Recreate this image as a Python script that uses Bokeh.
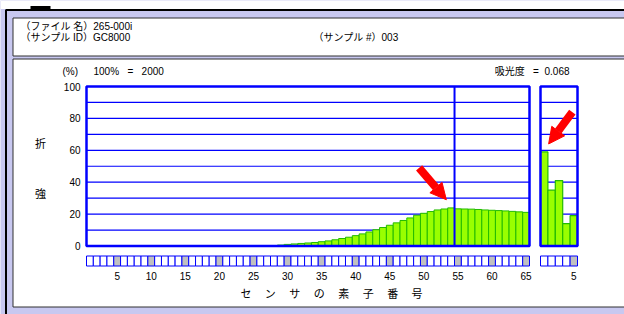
from bokeh.plotting import figure
from bokeh.models import Range1d, Arrow, NormalHead
from bokeh.core.properties import value
from bokeh.embed import file_html
from bokeh.resources import INLINE

# ---------------- data ----------------
sensors = list(range(28, 66))
intensity = [0.3, 0.6, 1.0, 1.3, 1.6, 1.9, 2.2, 2.7, 3.2, 3.9,
             4.7, 5.5, 6.5, 7.6, 8.8, 10.2, 11.6, 13.0, 14.5, 16.0,
             17.6, 19.3, 20.5, 21.6, 22.6, 23.2, 23.9, 23.3, 23.2, 23.1,
             22.9, 22.6, 22.4, 22.2, 22.0, 21.7, 21.4, 21.1]
sensors2 = [1, 2, 3, 4, 5]
intensity2 = [59, 35, 41, 14, 19]
x_ticks = [5, 10, 15, 20, 25, 30, 35, 40, 45, 50, 55, 60, 65]
x2_ticks = [5]
y_ticks = [0, 20, 40, 60, 80, 100]
grid_vals = [10, 20, 30, 40, 50, 60, 70, 80, 90]
n_main = 65
n_second = 5
split_at = 54.5
NB = "\u00a0"
file_name = "（ファイル 名）265-000i"
sample_id = "（サンプル ID）GC8000"
sample_no = "（サンプル #）003"
scale_txt = "100%" + NB * 3 + "=" + NB * 3 + "2000"
absorb_txt = "吸光度" + NB * 3 + "=" + NB * 2 + "0.068"
x_title = "セ　 ン　 サ　 の　 素　 子　 番　 号"

# ---------------- layout (page pixels) ----------------
W, H = 624, 314
PX0, PY0 = 0, 0
MAIN_L, MAIN_R = 86, 529
P2_L, P2_R = 540, 577
Y0_PX, Y100_PX = 245.5, 86.0

xper = (MAIN_R - MAIN_L) / n_main
x_start = 0.5 - (MAIN_L - PX0) / xper
x_end = n_main + 0.5 + (PX0 + W - MAIN_R) / xper
x2per = (P2_R - P2_L) / n_second
x2_start = 0.5 - (P2_L - PX0) / x2per
x2_end = n_second + 0.5 + (PX0 + W - P2_R) / x2per
yper = (Y0_PX - Y100_PX) / 100.0
y_start = 0 - (PY0 + H - Y0_PX) / yper
y_end = 100 + (Y100_PX - PY0) / yper

LAV = "#c8c8f0"
BLUE = "#0000ff"
GREEN_FILL = "#99ff00"
GREEN_LINE = "#22bb00"
LATIN = value("'Liberation Sans', 'Noto Sans CJK JP'")
CJK = value("Noto Sans CJK JP")

p = figure(width=W, height=H, x_range=Range1d(x_start, x_end),
           y_range=Range1d(y_start, y_end), output_backend="svg",
           toolbar_location=None, min_border=0, x_axis_location=None,
           y_axis_location=None, outline_line_color=None,
           background_fill_color=LAV, border_fill_color=LAV)
p.grid.visible = False
p.extra_x_ranges = {"px": Range1d(PX0, PX0 + W), "r2": Range1d(x2_start, x2_end)}
p.extra_y_ranges = {"px": Range1d(PY0 + H, PY0)}

PX = dict(x_range_name="px", y_range_name="px")

# outer frame + panels
p.quad(left=[0], right=[630], top=[0], bottom=[8.5], fill_color="white",
       line_color=None, **PX)
p.quad(left=[30], right=[50], top=[5.5], bottom=[8.5], fill_color="black",
       line_color=None, **PX)
p.segment(x0=[5, 5.5], y0=[9.5, 9.5], x1=[630, 5.5], y1=[9.5, 320],
          line_color="black", line_width=2, **PX)
p.quad(left=[12.5, 12.5], right=[630, 630], top=[17.5, 58.5], bottom=[55.5, 306.5],
       fill_color="white", line_color="#303030", line_width=1, **PX)

# header texts
p.text(x=[20, 20, 313], y=[25.5, 37, 37], text=[file_name, sample_id, sample_no],
       text_font=LATIN, text_font_size="10px", text_baseline="middle",
       text_color="black", **PX)
p.text(x=[62, 93], y=[71, 71], text=["(%)", scale_txt], text_font=LATIN,
       text_font_size="10px", text_baseline="middle", text_color="black", **PX)
p.text(x=[569], y=[71], text=[absorb_txt], text_font=LATIN, text_font_size="10px",
       text_baseline="middle", text_align="right", text_color="black", **PX)

# y labels
p.text(x=[80] * len(y_ticks), y=y_ticks, text=[str(v) for v in y_ticks],
       text_font=LATIN, text_font_size="10px", text_baseline="middle",
       text_align="right", text_color="black", x_range_name="px")
p.text(x=[40, 40], y=[142, 192], text=["折", "強"], text_font=CJK,
       text_font_size="11px", text_baseline="middle", text_align="center",
       text_color="black", **PX)

# grid lines
p.segment(x0=[0.5] * len(grid_vals), x1=[n_main + 0.5] * len(grid_vals),
          y0=grid_vals, y1=grid_vals, line_color=BLUE, line_width=1.2)
p.segment(x0=[0.5] * len(grid_vals), x1=[n_second + 0.5] * len(grid_vals),
          y0=grid_vals, y1=grid_vals, line_color=BLUE, line_width=1.2,
          x_range_name="r2")

# bars
p.vbar(x=sensors, top=intensity, bottom=0, width=1, fill_color=GREEN_FILL,
       line_color=GREEN_LINE, line_width=1)
p.vbar(x=sensors2, top=intensity2, bottom=0, width=1, fill_color=GREEN_FILL,
       line_color=GREEN_LINE, line_width=1.2, x_range_name="r2")

# frames and split line
p.quad(left=[0.5], right=[n_main + 0.5], bottom=[0], top=[100], fill_color=None,
       line_color=BLUE, line_width=2.5)
p.quad(left=[0.5], right=[n_second + 0.5], bottom=[0], top=[100], fill_color=None,
       line_color=BLUE, line_width=2.5, x_range_name="r2")
p.segment(x0=[split_at], x1=[split_at], y0=[0], y1=[100], line_color=BLUE,
          line_width=2)

# sensor index strip
idx = list(range(1, n_main + 1))
p.quad(left=[i - 0.5 for i in idx], right=[i + 0.5 for i in idx],
       top=[255.5] * len(idx), bottom=[265.5] * len(idx),
       fill_color=["#c0c0c0" if i % 5 == 0 else "white" for i in idx],
       line_color=BLUE, line_width=1, y_range_name="px")
idx2 = list(range(1, n_second + 1))
p.quad(left=[i - 0.5 for i in idx2], right=[i + 0.5 for i in idx2],
       top=[255.5] * len(idx2), bottom=[265.5] * len(idx2),
       fill_color=["#c0c0c0" if i % 5 == 0 else "white" for i in idx2],
       line_color=BLUE, line_width=1, x_range_name="r2", y_range_name="px")

# x tick labels and title
p.text(x=x_ticks, y=[275] * len(x_ticks), text=[str(v) for v in x_ticks],
       text_font=LATIN, text_font_size="10px", text_baseline="middle",
       text_align="center", text_color="black", y_range_name="px")
p.text(x=x2_ticks, y=[275], text=[str(v) for v in x2_ticks],
       text_font=LATIN, text_font_size="10px", text_baseline="middle",
       text_align="center", text_color="black", x_range_name="r2", y_range_name="px")
p.text(x=[331], y=[292], text=[x_title], text_font=CJK, text_font_size="11px",
       text_baseline="middle", text_align="center", text_color="black", **PX)

# arrows
p.add_layout(Arrow(end=NormalHead(size=16, fill_color="red", line_color="red"),
                   x_start=49.3, y_start=49, x_end=53.3, y_end=29,
                   line_color="red", line_width=8))
p.add_layout(Arrow(end=NormalHead(size=16, fill_color="red", line_color="red"),
                   x_start=4.8, y_start=84, x_end=1.6, y_end=64,
                   line_color="red", line_width=8, x_range_name="r2"))

open("out.html", "w").write(file_html(p, INLINE))
